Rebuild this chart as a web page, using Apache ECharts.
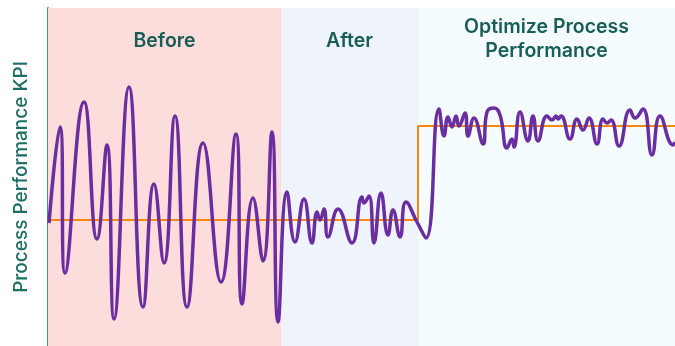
<!DOCTYPE html>
<html>
<head>
<meta charset="utf-8">
<style>
  html, body { margin: 0; padding: 0; background: #fff; }
  #chart { width: 675px; height: 346px; }
</style>
<script src="https://cdn.jsdelivr.net/npm/echarts@6/dist/echarts.min.js"></script>
</head>
<body>
<div id="chart"></div>
<script>
// process phases (x range of each phase)
var phases = ['Before', 'After', 'Optimize Process\nPerformance'];
var phaseStart = [0, 233, 370];
var phaseEnd = [233, 370, 627];
var phaseColors = ['#fddddc', '#eff3fb', '#f4fcff'];

// measured KPI over time
var kpiX = [1, 12, 17, 36, 49, 59, 66, 81, 95, 106, 116, 127, 139, 155, 173, 188, 194, 205, 215, 224, 230,
  239, 247, 256, 264, 269, 272, 276, 280, 290, 304, 314, 316, 321, 326, 333, 340, 345, 352, 358, 369, 378,
  391, 396, 400, 404, 408, 411, 417, 420, 426, 435, 439, 446, 452, 459, 464, 466, 472, 480, 485, 490, 499,
  504, 508, 510, 513, 522, 529, 535, 541, 549, 555, 559, 563, 571, 582, 587, 595, 604, 612, 625, 627];
var kpiY = [123, 219, 73, 244, 107, 201, 27, 259, 39, 162, 83, 230, 39, 203, 64, 212, 42, 148, 85, 214, 24,
  154, 104, 147, 103, 134, 126, 137, 109, 137, 103, 149, 143, 150, 103, 153, 111, 136, 109, 144, 124, 108,
  237, 210, 229, 219, 230, 220, 233, 210, 228, 202, 234, 238, 231, 198, 207, 199, 234, 205, 230, 205, 230,
  226, 230, 227, 230, 207, 227, 216, 228, 202, 227, 223, 226, 200, 236, 228, 237, 191, 230, 201, 204];

// specification limit (stepped)
var specX = [0, 370, 370, 627];
var specY = [126, 126, 220, 220];

var kpiData = kpiX.map(function (x, i) { return [x, kpiY[i]]; });
var specData = specX.map(function (x, i) { return [x, specY[i]]; });

var titleStyle = { color: '#185e57', fontSize: 19.5, fontWeight: 600, fontFamily: 'Inter', lineHeight: 24 };

var chart = echarts.init(document.getElementById('chart'));
var option = {
  animation: false,
  grid: { left: 48, right: 0, top: 8, bottom: 0 },
  xAxis: {
    type: 'value', min: 0, max: 627,
    axisLine: { show: false }, axisTick: { show: false },
    axisLabel: { show: false }, splitLine: { show: false }
  },
  yAxis: {
    type: 'value', min: 0, max: 338,
    name: 'Process Performance KPI',
    nameLocation: 'middle',
    nameGap: 17,
    nameTextStyle: { color: '#1f6e66', fontSize: 19, fontFamily: 'Inter', fontWeight: 500 },
    axisLine: { show: true, lineStyle: { color: '#4d8f8a', width: 2 } },
    axisTick: { show: false }, axisLabel: { show: false }, splitLine: { show: false }
  },
  series: [
    {
      type: 'line',
      data: [],
      markArea: {
        silent: true,
        data: phases.map(function (p, i) {
          return [{
            xAxis: phaseStart[i],
            itemStyle: { color: phaseColors[i] },
            label: Object.assign({ show: true, position: 'insideTop', distance: i === 2 ? 7 : 21, formatter: p }, titleStyle)
          }, { xAxis: phaseEnd[i] }];
        })
      }
    },
    {
      type: 'line',
      data: specData,
      symbol: 'none',
      lineStyle: { color: '#f5890f', width: 2 },
      z: 3
    },
    {
      type: 'line',
      data: kpiData,
      smooth: 0.5,
      symbol: 'none',
      lineStyle: { color: '#6a2ea0', width: 3.5 },
      z: 4
    }
  ],
  graphic: [{
    type: 'text',
    left: 350 - 70, top: 101,
    style: {
      text: 'Specification\nlimit',
      width: 140,
      align: 'center',
      fill: '#185e57',
      font: '600 19.5px Inter',
      lineHeight: 24
    }
  }]
};
chart.setOption(option);
</script>
</body>
</html>
